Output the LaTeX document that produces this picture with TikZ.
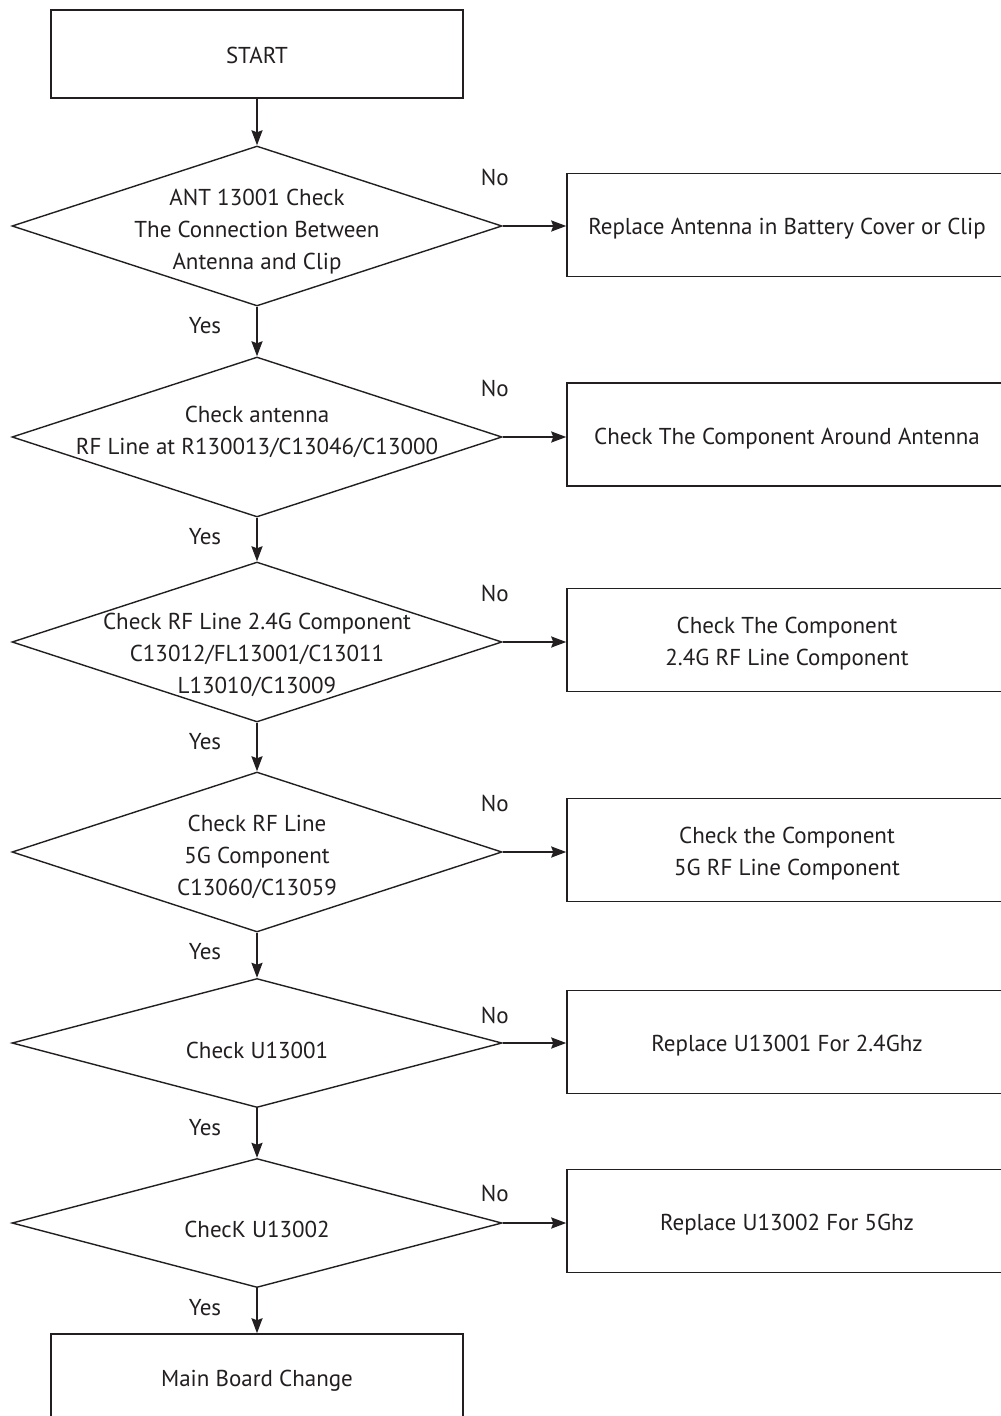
\documentclass[tikz,border=0pt]{standalone}
\usepackage{fontspec}
\setmainfont{PT Sans}
\usetikzlibrary{shapes.geometric,arrows.meta}
\definecolor{ink}{HTML}{231F20}
\begin{document}
\begin{tikzpicture}[x=1pt,y=-1pt,
  every node/.style={text=ink, font=\fontsize{23}{32}\selectfont},
  box/.style={draw=ink, line width=1.5pt, inner sep=0pt},
  lbox/.style={box, minimum width=412pt, minimum height=88pt},
  rbox/.style={box, minimum width=436pt, minimum height=103pt},
  dec/.style={draw=ink, line width=1.4pt, shape=diamond, inner sep=0pt, minimum width=490pt},
  dtext/.style={align=center, inner sep=0pt},
  flow/.style={draw=ink, line width=2pt, -{Stealth[length=15pt,width=11pt,inset=2pt]}},
  lab/.style={inner sep=0pt}
]
\useasboundingbox (0,0) rectangle (1001,1416);
\fill[white] (0,0) rectangle (1001,1416);

% left column
\node[lbox] (start) at (257,54) {};
\node[dtext] (ts) at (257,55) {START};
\node[dec, minimum height=160pt] (d1) at (257,226) {};
\node[dtext] (t1) at (257,232) {ANT 13001 Check\\The Connection Between\\Antenna and Clip};
\node[dec, minimum height=160pt] (d2) at (257,437) {};
\node[dtext] (t2) at (257,432) {Check antenna\\RF Line at R130013/C13046/C13000};
\node[dec, minimum height=160pt] (d3) at (257,642) {};
\node[dtext] (t3) at (257,655) {Check RF Line 2.4G Component\\C13012/FL13001/C13011\\L13010/C13009};
\node[dec, minimum height=160pt] (d4) at (257,852) {};
\node[dtext] (t4) at (257,857) {Check RF Line\\5G Component\\C13060/C13059};
\node[dec, minimum height=129pt] (d5) at (257,1043) {};
\node[dtext] (t5) at (257,1050) {Check U13001};
\node[dec, minimum height=129pt] (d6) at (257,1223) {};
\node[dtext] (t6) at (257,1229) {ChecK U13002};
\node[lbox] (main) at (257,1378) {};
\node[dtext] (tm) at (257,1381) {Main Board Change};

% right column
\node[rbox] (b1) at (785,225) {};
\node[dtext] (tb1) at (787,229) {Replace Antenna in Battery Cover or Clip};
\node[rbox] (b2) at (785,434.5) {};
\node[dtext] (tb2) at (787,438.5) {Check The Component Around Antenna};
\node[rbox] (b3) at (785,640) {};
\node[dtext] (tb3) at (787,644) {Check The Component\\2.4G RF Line Component};
\node[rbox] (b4) at (785,850) {};
\node[dtext] (tb4) at (787,854) {Check the Component\\5G RF Line Component};
\node[rbox] (b5) at (785,1042) {};
\node[dtext] (tb5) at (787,1046) {Replace U13001 For 2.4Ghz};
\node[rbox] (b6) at (785,1221) {};
\node[dtext] (tb6) at (787,1225) {Replace U13002 For 5Ghz};

% vertical flow
\draw[flow] (start.south) -- (d1.north);
\draw[flow] (d1.south) -- (d2.north);
\draw[flow] (d2.south) -- (d3.north);
\draw[flow] (d3.south) -- (d4.north);
\draw[flow] (d4.south) -- (d5.north);
\draw[flow] (d5.south) -- (d6.north);
\draw[flow] (d6.south) -- (main.north);

% horizontal flow
\foreach \i/\up in {1/49,2/49,3/49,4/49,5/28,6/30}{
  \draw[flow] (d\i.east) -- (d\i.east -| b\i.west);
  \node[lab] (no\i) at ([shift={(-8,-\up)}]d\i.east) {No};
  \node[lab] (yes\i) at ([shift={(-52,19)}]d\i.south) {Yes};
}
\end{tikzpicture}
\end{document}
